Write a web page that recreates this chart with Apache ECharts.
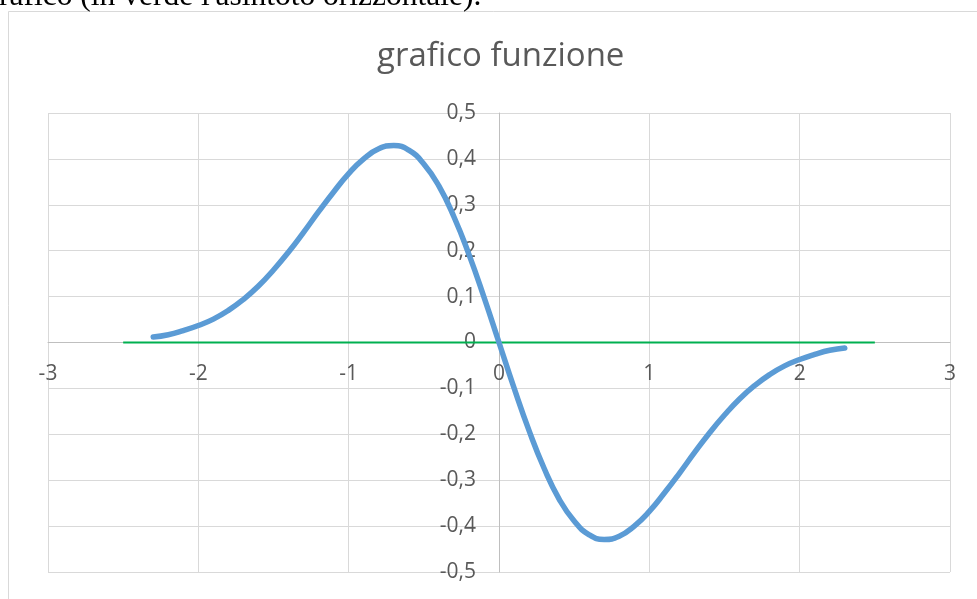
<!DOCTYPE html>
<html>
<head>
<meta charset="utf-8">
<script src="https://cdn.jsdelivr.net/npm/echarts@6/dist/echarts.min.js"></script>
<style>html,body{margin:0;padding:0;background:#fff;}#c{width:977px;height:599px;}</style>
</head>
<body>
<div id="c"></div>
<script>
const titleText = "grafico funzione";
const captionText = "rafico (in verde l'asintoto orizzontale).";
const xValues = [-2.3,-2.2,-2.1,-2.0,-1.9,-1.8,-1.7,-1.6,-1.5,-1.4,-1.3,-1.2,-1.1,-1.0,-0.9,-0.8,-0.7,-0.6,-0.5,-0.4,-0.3,-0.2,-0.1,0,
  0.1,0.2,0.3,0.4,0.5,0.6,0.7,0.8,0.9,1.0,1.1,1.2,1.3,1.4,1.5,1.6,1.7,1.8,1.9,2.0,2.1,2.2,2.3];
const yValues = [0.012,0.017,0.026,0.037,0.051,0.070,0.094,0.123,0.158,0.197,0.240,0.285,0.328,0.368,0.400,0.422,0.429,0.419,0.389,0.341,0.274,0.192,0.099,0,
  -0.099,-0.192,-0.274,-0.341,-0.389,-0.419,-0.429,-0.422,-0.400,-0.368,-0.328,-0.285,-0.240,-0.197,-0.158,-0.123,-0.094,-0.070,-0.051,-0.037,-0.026,-0.017,-0.012];
const asymptoteX = [-2.5, 2.5];
const asymptoteY = [0, 0];

const curve = xValues.map((x, i) => [x, yValues[i]]);
const asym = asymptoteX.map((x, i) => [x, asymptoteY[i]]);
const fmt = v => { const r = Math.round(v * 10) / 10; return (r === 0 ? '0' : String(r)).replace('.', ','); };

const GRID = {left: 48, right: 27, top: 113, bottom: 27};
const chart = echarts.init(document.getElementById('c'), null, {renderer: 'canvas'});
chart.setOption({
  animation: false,
  backgroundColor: '#ffffff',
  title: {
    text: titleText, left: 372, top: 35,
    textStyle: {fontFamily: 'Open Sans', fontSize: 33, fontWeight: 'normal', color: '#595959'}
  },
  graphic: [
    {type: 'rect', shape: {x: 8.5, y: 11.5, width: 1000, height: 600}, style: {fill: 'none', stroke: '#d9d9d9', lineWidth: 1}, z: -1},
    {type: 'text', left: -1, top: -19, style: {text: captionText, font: '31.5px "Liberation Serif"', fill: '#000000'}}
  ],
  grid: Object.assign({containLabel: false, outerBoundsMode: 'none'}, GRID),
  xAxis: {
    type: 'value', min: -3, max: 3, interval: 1, position: 'bottom', offset: 0,
    axisLine: {onZero: false, lineStyle: {color: '#bfbfbf', width: 1}},
    axisTick: {show: false},
    axisLabel: {margin: 21, fontFamily: 'Open Sans', fontSize: 21, color: '#595959', formatter: fmt},
    splitLine: {show: true, lineStyle: {color: '#d9d9d9', width: 1}}
  },
  yAxis: {
    type: 'value', min: -0.5, max: 0.5, interval: 0.1, position: 'left', offset: 0,
    axisLine: {onZero: false, lineStyle: {color: '#bfbfbf', width: 1}},
    axisTick: {show: false},
    axisLabel: {margin: 23, fontFamily: 'Open Sans', fontSize: 21, color: '#595959', formatter: fmt},
    splitLine: {show: true, lineStyle: {color: '#d9d9d9', width: 1}}
  },
  series: [
    {type: 'line', data: asym, symbol: 'none', lineStyle: {color: '#00b050', width: 2}, z: 2},
    {type: 'line', data: curve, smooth: true, symbol: 'none', lineStyle: {color: '#5b9bd5', width: 5.5, cap: 'round'}, z: 3}
  ]
});
// move both axes (line + labels) onto the zero crossing
const zero = chart.convertToPixel({gridIndex: 0}, [0, 0]);
const leftX = GRID.left;
const bottomY = 599 - GRID.bottom;
chart.setOption({
  xAxis: {offset: zero[1] - bottomY},
  yAxis: {offset: leftX - zero[0]}
});
</script>
</body>
</html>
